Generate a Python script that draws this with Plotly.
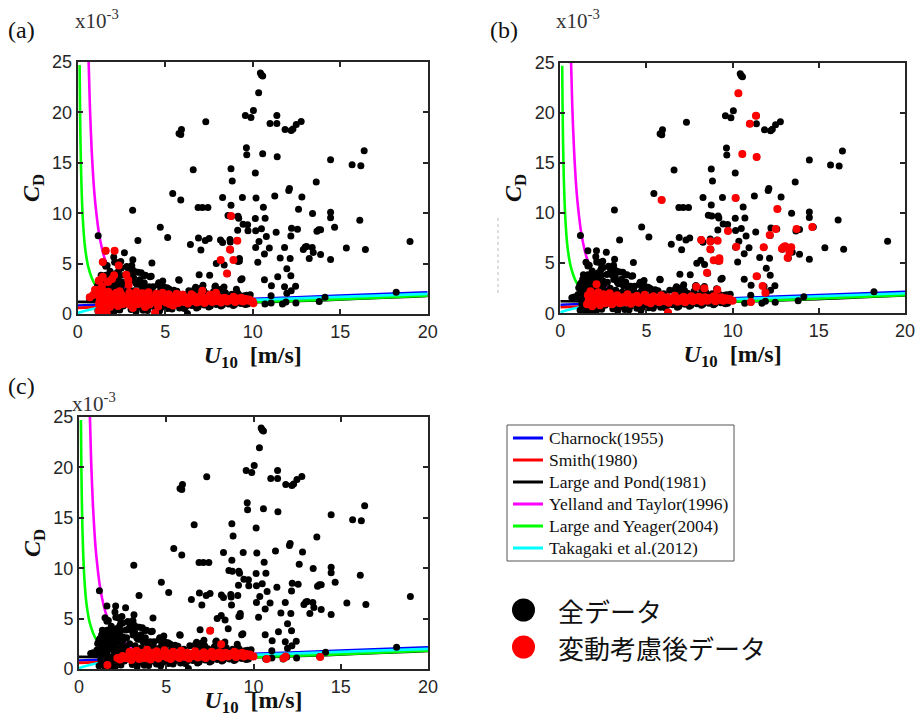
import plotly.graph_objects as go

# ---------------- model curves ----------------
CHARNOCK_U = [0, 5, 10, 15, 20]
CHARNOCK_CD = [0.85, 1.15, 1.5, 1.83, 2.15]
SMITH_U = [0, 20]
SMITH_CD = [0.61, 1.87]
LP_U = [0, 11, 20]
LP_CD = [1.2, 1.2, 1.79]
YT_U = [0.625, 0.7, 0.8, 0.9, 1.0, 1.2, 1.4, 1.6, 1.8, 2.0, 2.5, 3, 4, 5, 6]
YT_CD = [25.0, 20.4, 16.2, 13.2, 11.1, 8.2, 6.4, 5.2, 4.4, 3.8, 2.8, 2.2, 1.55, 1.2, 1.0]
LY_U = [0.11, 0.13, 0.16, 0.2, 0.25, 0.3, 0.4, 0.5, 0.6, 0.8, 1.0, 1.3, 1.6, 2, 3, 4, 5, 6, 8, 10, 14, 20]
LY_CD = [24.7, 20.9, 17.0, 13.7, 11.0, 9.2, 6.9, 5.6, 4.7, 3.6, 2.9, 2.3, 1.95, 1.65, 1.27, 1.12, 1.06,
         1.05, 1.09, 1.18, 1.4, 1.81]
TAK_U = [0, 0.5, 1, 2, 4, 7, 10, 15, 20]
TAK_CD = [0.1, 0.35, 0.55, 0.8, 1.0, 1.2, 1.4, 1.7, 2.0]

MODEL_NAMES = ["Charnock(1955)", "Smith(1980)", "Large and Pond(1981)",
               "Yelland and Taylor(1996)", "Large and Yeager(2004)", "Takagaki et al.(2012)"]
MODEL_COLORS = ["#0000ff", "#ff0000", "#000000", "#ff00ff", "#00ff00", "#00ffff"]

# ---------------- all data (black) ----------------
BLACK_HIGH_U = [10.44, 10.5, 10.57, 10.34, 10.04, 9.58, 9.9, 11.38, 10.99, 11.38,
                11.85, 12.2, 12.3, 12.49, 12.77, 7.32, 5.79, 5.93, 5.89, 9.64,
                9.66, 10.57, 11.4, 14.45, 15.68, 16.18, 16.37, 6.6, 8.76, 10.15,
                8.83, 13.63, 5.43, 5.89, 8.28, 9.41, 10.19, 11.26, 12.1, 12.06,
                12.81, 8.76, 6.88, 7.13, 7.44, 3.14, 10.61, 8.59, 8.79, 9.16,
                9.2, 9.45, 9.71, 10.15, 10.71, 13.42, 14.45, 14.45, 12.62, 4.72,
                5.14, 3.44, 6.44, 6.9, 7.04, 7.29, 7.51, 8.16, 8.28, 8.72,
                8.74, 9.1, 9.14, 9.73, 10.5, 10.17, 10.36, 10.17, 10.78, 10.95,
                11.34, 12.22, 12.18, 12.56, 11.82, 11.57, 12.14, 12.89, 13.0, 13.08,
                13.23, 13.4, 13.46, 13.67, 13.77, 13.88, 13.88, 14.45, 14.68, 15.35,
                16.12, 16.44, 18.99, 18.2, 14.13, 13.8, 9.24, 9.24, 11.95, 12.18,
                11.43, 9.39, 8.55, 7.92, 8.15, 8.37, 10.67, 11.07, 11.82, 12.45,
                11.95, 12.2, 11.05, 12.47, 11.05, 10.7, 11.7, 5.77, 6.94, 7.84,
                6.27, 10.29, 10.67, 9.16, 7.54, 8.7, 11.9]
BLACK_HIGH_CD = [23.9, 23.7, 23.6, 21.95, 20.2, 19.7, 19.5, 19.7, 18.9, 18.9,
                 18.3, 18.2, 18.35, 18.8, 19.1, 19.07, 17.9, 18.3, 17.8, 16.5,
                 15.8, 15.9, 15.6, 15.3, 14.8, 14.7, 16.2, 14.3, 14.4, 14.0,
                 13.2, 13.1, 11.95, 11.3, 11.55, 11.55, 11.5, 11.7, 12.45, 12.25,
                 11.6, 10.8, 10.56, 10.56, 10.56, 10.3, 10.6, 9.77, 9.7, 9.7,
                 9.5, 8.9, 8.85, 9.47, 9.5, 9.97, 10.1, 9.55, 10.4, 8.6,
                 7.6, 7.3, 6.9, 7.55, 6.35, 7.3, 7.5, 7.35, 7.1, 7.15,
                 6.35, 7.3, 8.3, 8.25, 8.45, 8.25, 7.2, 6.6, 7.7, 6.55,
                 8.1, 8.5, 7.75, 8.4, 6.6, 5.56, 5.5, 6.4, 6.65, 6.7,
                 5.5, 6.6, 6.1, 8.2, 8.35, 8.35, 5.9, 5.4, 8.6, 6.55,
                 9.3, 6.4, 7.2, 2.15, 1.65, 1.25, 5.5, 5.25, 4.5, 3.8,
                 3.7, 3.5, 4.0, 5.0, 5.3, 4.87, 3.4, 2.8, 2.7, 2.75,
                 2.05, 2.3, 1.8, 1.1, 1.1, 1.0, 1.0, 3.4, 3.9, 2.7,
                 0.05, 5.13, 5.95, 5.2, 3.84, 7.4, 1.2]

BLACK_NEAR_U = [1.17, 1.6, 2.1, 2.67, 2.06, 1.49, 1.6, 2.25, 3.15, 4.24,
                2.4, 2.8, 2.9, 1.85, 3.63, 3.78, 2.18, 2.37, 4.13, 3.19,
                3.55, 2.69, 2.86, 3.31, 3.8, 3.67, 4.58, 4.93, 5.22, 5.8,
                4.74, 5.5, 6.68, 7.03, 7.2, 4.12, 0.97, 0.81, 0.67, 1.07,
                1.2, 1.4, 1.34, 1.6, 1.72, 2.04, 1.53, 1.87, 2.16, 2.5,
                2.73, 3.1, 3.38, 2.11, 1.68, 2.34, 2.46, 2.5, 3.09, 2.99,
                1.81, 1.14, 1.03, 3.45, 3.28, 3.87, 3.12, 3.47, 4.08, 4.3,
                4.2, 4.63, 4.86, 5.1, 6.74, 7.16, 7.87, 8.36, 8.19, 9.07,
                9.24, 9.66, 9.32]
BLACK_NEAR_CD = [7.77, 6.25, 6.25, 6.08, 5.65, 5.09, 4.73, 5.09, 5.39, 5.06,
                 4.6, 4.7, 4.5, 4.23, 4.09, 3.83, 4.03, 3.8, 3.7, 3.63,
                 3.4, 3.87, 4.0, 3.11, 3.1, 2.72, 2.88, 2.68, 2.48, 3.34,
                 2.38, 2.35, 2.45, 2.55, 2.3, 2.55, 1.62, 1.62, 1.55, 2.54,
                 3.03, 3.5, 3.84, 3.84, 3.6, 3.84, 3.2, 3.11, 3.28, 3.2,
                 3.1, 3.37, 2.94, 5.13, 4.8, 4.3, 5.2, 4.56, 4.8, 3.84,
                 3.93, 2.84, 1.88, 4.13, 4.2, 3.84, 4.43, 2.98, 2.7, 2.7,
                 3.74, 3.1, 3.27, 2.6, 2.65, 2.84, 2.78, 2.68, 2.45, 2.45,
                 1.85, 1.85, 3.4]

BLACK_BLOB_U = [1.15, 1.2, 1.22, 1.25, 1.3, 1.3, 1.35, 1.4, 1.42, 1.45,
                1.5, 1.5, 1.55, 1.6, 1.6, 1.65, 1.7, 1.72, 1.75, 1.8,
                1.8, 1.85, 1.9, 1.95, 2.0, 2.0, 2.05, 2.1, 2.15, 2.2,
                2.2, 2.25, 2.3, 2.35, 2.4, 2.45, 2.5, 2.55, 2.6, 2.7,
                2.8, 2.9, 1.28, 1.38, 1.48, 1.58, 1.68, 1.78, 1.88, 1.98,
                2.08, 2.18, 2.28, 2.38, 2.48, 2.58, 1.33, 1.53, 1.73, 1.93,
                2.13, 2.33, 2.53, 2.73]
BLACK_BLOB_CD = [0.3, 1.5, 2.8, 0.9, 2.2, 3.4, 0.5, 1.8, 2.9, 1.1,
                 0.2, 2.5, 3.6, 0.8, 1.6, 2.9, 0.4, 3.3, 2.1, 1.2,
                 0.1, 2.7, 0.6, 1.9, 3.4, 0.9, 2.4, 0.3, 1.5, 2.9,
                 0.7, 2.0, 3.1, 1.1, 0.4, 2.6, 1.7, 3.0, 0.8, 2.2,
                 1.4, 2.5, 3.0, 2.6, 1.4, 3.1, 1.1, 2.4, 3.0, 1.3,
                 1.9, 3.6, 0.5, 1.8, 2.2, 1.2, 0.7, 2.0, 2.7, 0.3,
                 2.6, 1.5, 2.9, 1.9]

BLACK_BAND_U = [3.05, 3.22, 3.41, 3.58, 3.74, 3.93, 4.06, 4.27, 4.44, 4.61,
                4.79, 4.95, 5.13, 5.31, 5.46, 5.67, 5.82, 6.01, 6.18, 6.35,
                6.52, 6.71, 6.88, 7.02, 7.23, 7.39, 7.58, 7.76, 7.93, 8.08,
                8.27, 8.44, 8.63, 8.81, 8.97, 9.15, 9.33, 9.52, 9.71, 9.86,
                3.15, 3.48, 3.82, 4.15, 4.52, 4.88, 5.22, 5.58, 5.94, 6.29,
                6.63, 6.97, 7.31, 7.67, 8.02, 8.36, 8.72, 9.08, 9.43, 9.79,
                3.33, 3.99, 4.68, 5.39, 6.09, 6.79, 7.49, 8.19, 8.89, 9.58]
BLACK_BAND_CD = [0.45, 2.3, 0.62, 2.1, 0.38, 2.45, 0.7, 2.2, 0.5, 2.05,
                 0.66, 2.35, 0.55, 2.0, 0.8, 2.25, 0.6, 1.95, 0.75, 2.3,
                 0.85, 1.9, 0.7, 2.15, 0.9, 2.0, 0.8, 2.2, 0.95, 1.85,
                 0.9, 2.1, 1.0, 1.95, 0.95, 2.05, 1.05, 1.8, 1.0, 1.9,
                 1.3, 1.0, 1.5, 1.1, 1.6, 1.2, 1.4, 1.05, 1.55, 1.25,
                 1.45, 1.15, 1.6, 1.3, 1.5, 1.2, 1.65, 1.35, 1.4, 1.3,
                 0.25, 0.35, 0.3, 0.5, 0.55, 0.6, 0.7, 0.8, 0.85, 0.95]

# ---------------- data after considering variation (red) ----------------
RED_BAND_U = [2.75, 2.9, 3.0, 3.1, 3.2, 3.3, 3.45, 3.55, 3.65, 3.8,
              3.9, 4.0, 4.1, 4.2, 4.35, 4.45, 4.55, 4.7, 4.8, 4.9,
              5.05, 5.15, 5.25, 5.4, 5.5, 5.6, 5.75, 5.85, 5.95, 6.1,
              6.2, 6.3, 6.45, 6.55, 6.65, 6.8, 6.9, 7.0, 7.15, 7.25,
              7.35, 7.5, 7.6, 7.7, 7.85, 7.95, 8.05, 8.2, 8.3, 8.4,
              8.55, 8.65, 8.75, 8.9, 9.0, 9.1, 9.25, 9.35, 9.45, 9.6,
              9.7, 9.8, 9.9, 10.0,
              2.85, 3.25, 3.6, 3.95, 4.3, 4.65, 5.0, 5.35, 5.7, 6.05,
              6.4, 6.75, 7.1, 7.45, 7.8, 8.15, 8.5, 8.85, 9.2, 9.55, 9.85]
RED_BAND_CD = [1.1, 1.7, 0.9, 1.5, 1.2, 1.8, 1.0, 1.4, 1.6, 1.1,
               1.9, 1.3, 0.95, 1.6, 1.2, 1.75, 1.05, 1.45, 1.3, 1.85,
               1.15, 1.55, 1.0, 1.7, 1.25, 1.45, 1.1, 1.8, 1.35, 1.2,
               1.6, 1.05, 1.5, 1.3, 1.75, 1.15, 1.45, 1.25, 1.65, 1.1,
               1.5, 1.35, 1.7, 1.2, 1.55, 1.3, 1.65, 1.15, 1.45, 1.6,
               1.25, 1.5, 1.4, 1.7, 1.2, 1.55, 1.35, 1.6, 1.25, 1.5,
               1.35, 1.45, 1.3, 1.25,
               1.35, 1.25, 1.3, 1.4, 1.35, 1.3, 1.5, 1.4, 1.3, 1.45,
               1.35, 1.4, 1.5, 1.35, 1.45, 1.4, 1.5, 1.4, 1.45, 1.4, 1.35]
RED_MID_U = [1.55, 1.6, 1.7, 1.75, 1.85, 1.9, 2.0, 2.05, 2.15, 2.2,
             2.3, 2.35, 2.45, 2.5, 2.6, 2.65, 1.65, 1.95, 2.25, 2.55]
RED_MID_CD = [0.9, 1.8, 1.2, 2.2, 0.7, 1.5, 1.9, 1.0, 1.4, 2.1,
              0.8, 1.6, 1.2, 1.9, 1.0, 1.5, 1.3, 1.2, 1.7, 1.35]
RED_LO_U = [1.2, 1.22, 1.25, 1.27, 1.3, 1.32, 1.35, 1.38, 1.4, 1.43, 1.45, 1.48, 1.25, 1.35, 1.45]
RED_LO_CD = [0.3, 1.0, 1.7, 2.4, 0.6, 1.3, 2.0, 2.7, 0.9, 1.6, 0.4, 2.2, 1.2, 1.5, 1.1]
# extra red band edge points seen in panel (a)
RED_A_EDGE_U = [2.4, 2.95, 3.35, 3.7, 4.05, 4.5, 4.85, 5.2, 5.65, 6.0, 6.5, 7.05, 7.55, 3.15, 3.85, 4.6, 5.45]
RED_A_EDGE_CD = [2.25, 2.1, 2.2, 2.05, 2.15, 2.0, 2.1, 1.95, 2.0, 1.9, 1.95, 1.85, 1.9, 0.6, 0.7, 0.75, 0.85]

RED_A_EXTRA_U = [8.76, 9.12, 8.7, 8.9, 8.17, 8.53, 7.12, 7.9, 1.6, 2.11,
                 1.43, 2.34, 1.2, 1.7, 2.08, 1.43, 1.96, 2.78, 2.91, 0.69,
                 0.88, 0.99, 4.42, 10.04, 1.27, 1.75, 2.89, 1.66]
RED_A_EXTRA_CD = [9.72, 7.27, 6.4, 5.36, 5.36, 4.03, 2.31, 2.1, 6.28, 6.28,
                  5.16, 4.8, 3.3, 3.2, 3.84, 3.7, 3.47, 3.9, 2.88, 1.65,
                  1.88, 2.4, 0.13, 1.06, 3.37, 3.2, 3.37, 0.07]
RED_B_EXTRA_U = [10.33, 11.35, 11.0, 10.56, 11.39, 5.88, 10.17, 12.59, 12.5, 13.71,
                 14.62, 12.15, 9.73, 8.18, 8.7, 9.13, 10.21, 11.8, 12.86, 13.04,
                 12.94, 13.4, 13.3, 13.19, 8.7, 8.9, 9.23, 9.23, 8.51, 11.39,
                 11.74, 11.9, 7.89, 8.36, 9.11, 11.06, 6.25, 2.1, 2.87]
RED_B_EXTRA_CD = [21.94, 19.7, 18.9, 15.9, 15.6, 11.3, 11.5, 10.4, 8.4, 8.4,
                  8.6, 7.8, 8.2, 7.3, 7.2, 7.25, 6.65, 6.6, 6.45, 6.7,
                  6.6, 6.6, 6.1, 5.55, 6.4, 5.3, 5.5, 5.25, 4.05, 3.7,
                  2.73, 2.06, 2.66, 2.5, 2.36, 1.13, 0.07, 2.9, 2.0]
RED_C_EXTRA_U = [7.51, 8.15, 10.76, 11.72, 11.84, 13.82, 1.63, 2.2, 2.35, 2.5, 2.6]
RED_C_EXTRA_CD = [3.8, 2.45, 1.0, 1.06, 1.23, 1.2, 0.4, 1.1, 0.95, 1.3, 1.1]

X_TICKS = [0, 5, 10, 15, 20]
Y_TICKS = [0, 5, 10, 15, 20, 25]
PANEL_LABELS = ["(a)", "(b)", "(c)"]
DATA_NAMES = ["全データ", "変動考慮後データ"]
DATA_COLORS = ["#000000", "#ff0000"]

# ---------------- build ----------------
W, H = 917, 717
fig = go.Figure()

models = [(CHARNOCK_U, CHARNOCK_CD), (SMITH_U, SMITH_CD), (LP_U, LP_CD),
          (YT_U, YT_CD), (LY_U, LY_CD), (TAK_U, TAK_CD)]

black_u = BLACK_BAND_U + BLACK_BLOB_U + BLACK_NEAR_U + BLACK_HIGH_U
black_cd = BLACK_BAND_CD + BLACK_BLOB_CD + BLACK_NEAR_CD + BLACK_HIGH_CD

red_sets = [
    (RED_LO_U + RED_MID_U + RED_BAND_U + RED_A_EDGE_U + RED_A_EXTRA_U,
     RED_LO_CD + RED_MID_CD + RED_BAND_CD + RED_A_EDGE_CD + RED_A_EXTRA_CD),
    (RED_MID_U + RED_BAND_U + RED_B_EXTRA_U,
     RED_MID_CD + RED_BAND_CD + RED_B_EXTRA_CD),
    (RED_BAND_U + RED_C_EXTRA_U,
     RED_BAND_CD + RED_C_EXTRA_CD),
]

axis_ids = [("x", "y"), ("x2", "y2"), ("x3", "y3")]

for p, (xa, ya) in enumerate(axis_ids):
    for (mu, mc), name, col in zip(models, MODEL_NAMES, MODEL_COLORS):
        fig.add_trace(go.Scatter(
            x=mu, y=mc, mode="lines", name=name, xaxis=xa, yaxis=ya,
            line=dict(color=col, width=2.6, shape="spline", smoothing=0.6),
            showlegend=False, hoverinfo="skip"))
    fig.add_trace(go.Scatter(
        x=black_u, y=black_cd, mode="markers", xaxis=xa, yaxis=ya,
        marker=dict(color=DATA_COLORS[0], size=7, line=dict(width=0)),
        showlegend=False, name=DATA_NAMES[0]))
    ru, rc = red_sets[p]
    fig.add_trace(go.Scatter(
        x=ru, y=rc, mode="markers", xaxis=xa, yaxis=ya,
        marker=dict(color=DATA_COLORS[1], size=8, line=dict(width=0)),
        showlegend=False, name=DATA_NAMES[1]))

# panel rectangles in pixels (left, top, right, bottom)
panels = [(77.7, 62, 427.7, 314), (560.3, 62.7, 905, 313.3), (79, 417, 428, 669)]

ax_col = "#262626"
tick_font = dict(family="Liberation Sans, Arial, sans-serif", size=18, color=ax_col)
title_font = dict(family="Liberation Serif, Times New Roman, serif", size=24, color="#111111")

layout = dict(width=W, height=H, margin=dict(l=0, r=0, t=0, b=0),
              paper_bgcolor="white", plot_bgcolor="white", showlegend=False)

for p, (l, t, r, b) in enumerate(panels):
    sfx = "" if p == 0 else str(p + 1)
    layout["xaxis" + sfx] = dict(
        domain=[l / W, r / W], anchor="y" + sfx, range=[0, 20], tickvals=X_TICKS,
        ticks="inside", ticklen=5, tickwidth=1.5, tickcolor=ax_col, automargin=False,
        showline=True, linewidth=2, linecolor=ax_col, mirror="ticks",
        showgrid=False, zeroline=False, tickfont=tick_font,
        title=dict(text="<b><i>U</i><sub>10</sub>  [m/s]</b>", font=title_font, standoff=3))
    layout["yaxis" + sfx] = dict(
        domain=[1 - b / H, 1 - t / H], anchor="x" + sfx, range=[0, 25], tickvals=Y_TICKS,
        ticks="inside", ticklen=5, tickwidth=1.5, tickcolor=ax_col, automargin=False,
        showline=True, linewidth=2, linecolor=ax_col, mirror="ticks",
        showgrid=False, zeroline=False, tickfont=tick_font,
        title=dict(text="<b><i>C</i><sub>D</sub></b>", font=title_font, standoff=6))

fig.update_layout(**layout)

def px(x):
    return x / W

def py(y):
    return 1 - y / H

ann_font = dict(family="Liberation Serif, Times New Roman, serif", size=24, color="#111111")
exp_font = dict(family="Liberation Serif, Times New Roman, serif", size=21, color="#333333")
label_pos = [(6, 30), (488, 30), (6, 386)]
exp_pos = [(73, 19), (554, 20), (70, 402)]
for lab, (lx, ly), (ex, ey) in zip(PANEL_LABELS, label_pos, exp_pos):
    fig.add_annotation(x=px(lx), y=py(ly), xref="paper", yref="paper", text=lab,
                       showarrow=False, xanchor="left", yanchor="middle", font=ann_font)
    fig.add_annotation(x=px(ex), y=py(ey), xref="paper", yref="paper",
                       text="x10<sup>-3</sup>", showarrow=False, xanchor="left",
                       yanchor="middle", font=exp_font)

# faint dotted artefact left of panel (b)
fig.add_shape(type="line", xref="paper", yref="paper", x0=px(498), x1=px(498),
              y0=py(218), y1=py(293), line=dict(color="#bbbbbb", width=1, dash="dot"))

# ---- legend box for the model curves ----
fig.add_shape(type="rect", xref="paper", yref="paper", x0=px(507), x1=px(734),
              y0=py(425), y1=py(561), line=dict(color="#555555", width=1), fillcolor="white",
              layer="above")
leg_font = dict(family="Liberation Serif, Times New Roman, serif", size=17.5, color="#111111")
for i, (name, col) in enumerate(zip(MODEL_NAMES, MODEL_COLORS)):
    yy = 438 + 22 * i
    fig.add_shape(type="line", xref="paper", yref="paper", x0=px(513), x1=px(543),
                  y0=py(yy), y1=py(yy), line=dict(color=col, width=3), layer="above")
    fig.add_annotation(x=px(547), y=py(yy), xref="paper", yref="paper", text=name,
                       showarrow=False, xanchor="left", yanchor="middle", font=leg_font)

# ---- marker legend ----
mk_font = dict(family="Noto Sans CJK JP, sans-serif", size=26, color="#111111")
for i, (name, col) in enumerate(zip(DATA_NAMES, DATA_COLORS)):
    yy = 610 + 37 * i
    fig.add_shape(type="circle", xref="paper", yref="paper", x0=px(512), x1=px(535),
                  y0=py(yy - 11.5), y1=py(yy + 11.5), line=dict(width=0), fillcolor=col)
    fig.add_annotation(x=px(556), y=py(yy), xref="paper", yref="paper", text=name,
                       showarrow=False, xanchor="left", yanchor="middle", font=mk_font)

fig.write_html("out.html", config={"displayModeBar": False},
               post_script="document.body.style.margin='0';document.body.style.overflow='hidden';")
